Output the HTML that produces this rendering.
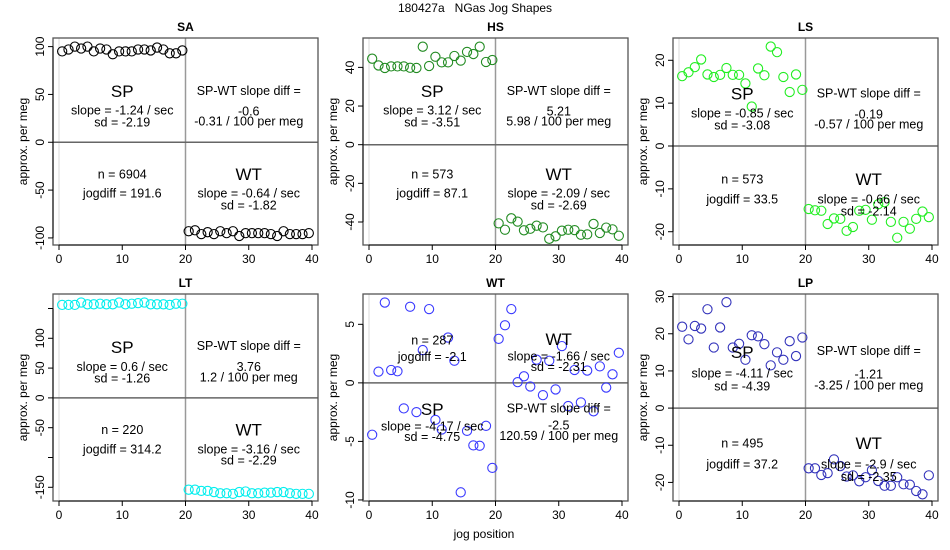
<!DOCTYPE html>
<html><head><meta charset="utf-8">
<style>
html,body{margin:0;padding:0;background:#fff;}
svg{display:block;font-family:"Liberation Sans",sans-serif;}
</style></head>
<body>
<svg id="chart" width="950" height="550" viewBox="0 0 950 550" xmlns="http://www.w3.org/2000/svg">
<text x="475" y="12" font-size="12" text-anchor="middle" xml:space="preserve">180427a &#160; NGas Jog Shapes</text>
<text x="484" y="538" font-size="12" text-anchor="middle">jog position</text>
</svg>
<script>
const panelNames = ["SA","HS","LS","LT","WT","LP"];
const panelColors = ["#000000","#228B22","#22ee22","#00eeee","#3a3aff","#3333bb"];
const xTicks = [0,10,20,30,40];
const yTicksSA = [-100,-50,0,50,100];
const yTicksHS = [-40,-20,0,20,40];
const yTicksLS = [-20,-10,0,10,20];
const yTicksLT = [-150,-100,-50,0,50,100,150];
const yTickLabelsLT = ["-150","","-50","0","50","100",""];
const yTicksWT = [-10,-5,0,5];
const yTicksLP = [-20,-10,0,10,20,30];
const yDomSA = [-107.4,109];
const yDomHS = [-51.9,55.2];
const yDomLS = [-23.1,25.2];
const yDomLT = [-173,174.3];
const yDomWT = [-10.09,7.59];
const yDomLP = [-25.0,30.7];
const jogX = [0.5,1.5,2.5,3.5,4.5,5.5,6.5,7.5,8.5,9.5,10.5,11.5,12.5,13.5,14.5,15.5,16.5,17.5,18.5,19.5,20.5,21.5,22.5,23.5,24.5,25.5,26.5,27.5,28.5,29.5,30.5,31.5,32.5,33.5,34.5,35.5,36.5,37.5,38.5,39.5];
const valsSA = [95,97,100,98,100,95,98,97,92,95,95,95,97,97,96,99,97,93,93,96,-93,-92,-96,-94,-96,-93,-95,-93,-98,-95,-95,-95,-95,-96,-98,-93,-96,-96,-96,-95];
const valsHS = [44.5,41,39.7,40.5,40.5,40.5,39.8,39.7,50.7,40.7,45.5,42.6,42.6,45.9,43.5,48,46.9,50.7,42.8,43.8,-40.7,-44,-38.1,-39.8,-44.3,-43.5,-41.9,-42.8,-48.7,-47.4,-44.5,-44,-44.2,-46.6,-46.4,-41,-45.7,-42.9,-43.8,-47.1];
const valsLS = [16.3,17.2,18.4,20.2,16.7,16.1,16.6,18.2,16.6,16.6,14.6,9.2,18.1,16.5,23.2,21.9,16.1,12.6,16.7,13.1,-14.7,-15.0,-15.1,-18.2,-16.9,-17.0,-19.8,-18.9,-15.1,-14.9,-17.2,-13.6,-13.1,-17.7,-21.4,-17.7,-19.3,-17.0,-15.3,-16.6];
const valsLT = [156,156,156,160,157,157,158,157,157,160,157,158,159,160,157,157,157,156,158,158,-154,-154,-156,-156,-158,-160,-160,-161,-158,-157,-160,-160,-159,-159,-158,-158,-160,-161,-161,-161];
const valsWT = [-4.43,0.96,6.86,1.1,0.99,-2.18,6.5,-2.5,2.8,6.3,-3.16,-3.98,3.87,1.89,-9.35,-4.1,-5.34,-5.37,-3.67,-7.26,3.76,4.92,6.3,0.06,0.56,-0.31,1.98,-1.05,1.89,-0.56,3.14,-1.98,1.1,-1.67,1.05,-2.43,1.41,-0.4,0.73,2.57];
const valsLP = [21.9,18.5,22.1,21.4,26.6,16.3,21.7,28.5,16.3,17.3,13.0,19.6,19.3,17.2,11.5,15.0,13.0,18.0,14.0,19.0,-16.2,-16.2,-18.0,-17.5,-13.8,-15.6,-18.4,-18.1,-19.7,-18.6,-16.7,-19.6,-20.9,-20.9,-18.6,-20.5,-20.6,-22.3,-23.2,-18.1];
const statsSP = [["-1.24","-2.19"],["3.12","-3.51"],["-0.85","-3.08"],["0.6","-1.26"],["-4.17","-4.75"],["-4.11","-4.39"]];
const statsWT = [["-0.64","-1.82"],["-2.09","-2.69"],["-0.66","-2.14"],["-3.16","-2.29"],["-1.66","-2.31"],["-2.9","-2.35"]];
const statsDiff = [["-0.6","-0.31"],["5.21","5.98"],["-0.19","-0.57"],["3.76","1.2"],["-2.5","120.59"],["-1.21","-3.25"]];
const statsN = ["6904","573","573","220","287","495"];
const statsJog = ["191.6","87.1","33.5","314.2","-2.1","37.2"];

const allVals=[valsSA,valsHS,valsLS,valsLT,valsWT,valsLP];
const allTicks=[yTicksSA,yTicksHS,yTicksLS,yTicksLT,yTicksWT,yTicksLP];
const allDoms=[yDomSA,yDomHS,yDomLS,yDomLT,yDomWT,yDomLP];
const svg=document.getElementById('chart');
const NS="http://www.w3.org/2000/svg";
function mk(tag,attrs,parent){const e=document.createElementNS(NS,tag);for(const k in attrs)e.setAttribute(k,attrs[k]);(parent||svg).appendChild(e);return e;}
const lefts=[53,363,673], tops=[38,294], W=265, H=207;
const xDom=[-0.95,40.95];
const layouts=[
 [52.7,72,84,52.7,73,83,136,155,136,155,167],
 [52.7,72,84,52.7,73,83,136,155,136,155,167],
 [55.3,75,87,55,76,86,141,161,141,161,173],
 [52.7,72.7,84,51.7,72.7,83,135.3,155,135.3,155,166],
 [115,132,142.7,114,131,141.7,46,62.7,45,62,72.7],
 [57.7,79,92,56.7,80,91,149,170,149,170,182.7]];
for(let p=0;p<6;p++){
  const L=lefts[p%3], T=tops[Math.floor(p/3)];
  const g=mk('g',{});
  
  
  const dom=allDoms[p];
  const xs=v=>L+(v-xDom[0])/(xDom[1]-xDom[0])*W;
  const ys=v=>T+H-(v-dom[0])/(dom[1]-dom[0])*H;
  const t=mk('text',{x:L+W/2,y:T-7,'font-size':12,'font-weight':'bold','text-anchor':'middle'},g);t.textContent=panelNames[p];
  
  
  mk('line',{x1:xs(0),x2:xs(0),y1:T,y2:T+H,stroke:'#d8d8d8','stroke-width':1},g);
  mk('line',{x1:xs(20),x2:xs(20),y1:T,y2:T+H,stroke:'#999','stroke-width':1.5},g);
  mk('line',{x1:L,x2:L+W,y1:ys(0),y2:ys(0),stroke:'#666','stroke-width':1.5},g);
  const box=mk('rect',{x:L,y:T,width:W,height:H,fill:'none',stroke:'#555','stroke-width':1.3},g);
  
  
  mk('line',{x1:xs(0),x2:xs(40),y1:T+H,y2:T+H,stroke:'#000'},g);
  xTicks.forEach(v=>{mk('line',{x1:xs(v),x2:xs(v),y1:T+H,y2:T+H+5,stroke:'#000'},g);
    const tl=mk('text',{x:xs(v),y:T+H+18,'font-size':12,'text-anchor':'middle'},g);tl.textContent=v;
    
    });
  const ticks=allTicks[p];
  mk('line',{x1:L,x2:L,y1:ys(ticks[0]),y2:ys(ticks[ticks.length-1]),stroke:'#000'},g);
  ticks.forEach((v,i)=>{mk('line',{x1:L-5,x2:L,y1:ys(v),y2:ys(v),stroke:'#000'},g);
    const lab=p===3?yTickLabelsLT[i]:String(v);
    if(lab){const tl=mk('text',{x:L-9,y:ys(v),'font-size':12,'text-anchor':'middle',transform:'rotate(-90 '+(L-9)+' '+ys(v)+')'},g);tl.textContent=lab;
    
    }});
  const yl=mk('text',{x:L-26,y:T+H/2,'font-size':12,'text-anchor':'middle',transform:'rotate(-90 '+(L-26)+' '+(T+H/2)+')'},g);yl.textContent='approx. per meg';
  
  
  allVals[p].forEach((v,i)=>{const c=mk('circle',{cx:xs(jogX[i]),cy:ys(v),r:4.6,fill:'none',stroke:panelColors[p],'stroke-width':1.1},g);
    
    });
  const ly=layouts[p];
  const ann=(txt,xv,oy,size)=>{const a=mk('text',{x:xs(xv),y:T+oy+size*0.36,'font-size':size,'text-anchor':'middle'},g);a.textContent=txt;
    
    };
  ann('SP',10,ly[0],17);
  ann('slope = '+statsSP[p][0]+' / sec',10,ly[1],12.5);
  ann('sd = '+statsSP[p][1],10,ly[2],12.5);
  ann('SP-WT slope diff =',30,ly[3],12.5);
  ann(statsDiff[p][0],30,ly[4],12.5);
  ann(statsDiff[p][1]+' / 100 per meg',30,ly[5],12.5);
  ann('n = '+statsN[p],10,ly[6],12.5);
  ann('jogdiff = '+statsJog[p],10,ly[7],12.5);
  ann('WT',30,ly[8],17);
  ann('slope = '+statsWT[p][0]+' / sec',30,ly[9],12.5);
  ann('sd = '+statsWT[p][1],30,ly[10],12.5);
}
</script>
</body></html>
